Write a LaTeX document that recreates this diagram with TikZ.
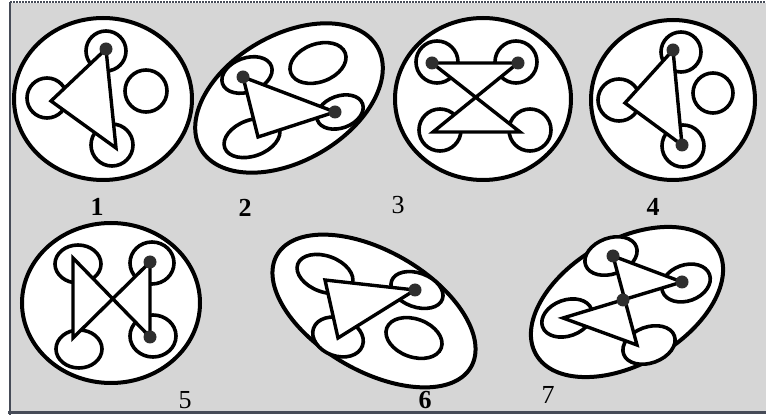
\documentclass[tikz,border=0pt]{standalone}
\usepackage{fontspec}
\setmainfont{Liberation Serif}
\definecolor{panelgray}{HTML}{D6D6D6}
\definecolor{framegray}{HTML}{464B57}
\definecolor{dotgray}{HTML}{2E2E2E}
\tikzset{
  outer/.style={draw=black, fill=white, line width=4pt},
  ring/.style={draw=black, fill=white, line width=3.6pt},
  link/.style={draw=black, fill=white, line width=3.4pt, line join=miter},
  dot/.style={fill=dotgray},
  num/.style={inner sep=0pt, font=\fontsize{26}{26}\selectfont},
  bnum/.style={num, font=\fontsize{26}{26}\selectfont\bfseries}
}
\begin{document}
\begin{tikzpicture}[x=1pt,y=-1pt]
\useasboundingbox (0,0) rectangle (766,419);
\fill[white] (0,0) rectangle (766,419);
\fill[panelgray] (10,3) rectangle (766,412);
\draw[framegray, line width=2.5pt] (10,2) -- (10,415);
\draw[framegray, line width=1.5pt, dash pattern=on 2pt off 1pt] (10,2) -- (766,2);
\draw[framegray, line width=3pt] (8,413) -- (766,413);
\draw[outer] (103,99) ellipse [x radius=89, y radius=81];
\draw[ring] (106,51) circle [radius=20];
\draw[ring] (47,98) circle [radius=20];
\draw[ring] (146,91) circle [radius=21];
\draw[ring] (112,145) circle [radius=21];
\draw[link] (106,49) -- (51,101) -- (116,148) -- cycle;
\fill[dot] (106,49) circle [radius=6.5];
\node[bnum] (n1) at (97,207) {1};
\draw[outer, rotate around={30:(289,98)}] (289,98) ellipse [x radius=102, y radius=63];
\draw[ring, rotate around={20:(247,75)}] (247,75) ellipse [x radius=26, y radius=17];
\draw[ring, rotate around={20:(318,63)}] (318,63) ellipse [x radius=29, y radius=19];
\draw[ring, rotate around={20:(340,112)}] (340,112) ellipse [x radius=24, y radius=16];
\draw[ring, rotate around={20:(252,138)}] (252,138) ellipse [x radius=29, y radius=18];
\draw[link] (243,77) -- (335,112) -- (258,137) -- cycle;
\fill[dot] (243,77) circle [radius=6.5];
\fill[dot] (335,112) circle [radius=6.5];
\node[bnum] (n2) at (245,208) {2};
\draw[outer] (483,99) ellipse [x radius=88, y radius=81];
\draw[ring] (437,62) circle [radius=21];
\draw[ring] (516,62) circle [radius=21];
\draw[ring] (440,130) circle [radius=21];
\draw[ring] (530,130) circle [radius=21];
\draw[link] (432,63) -- (518,63) -- (433,132) -- (520,132) -- cycle;
\fill[dot] (432,63) circle [radius=6.5];
\fill[dot] (518,63) circle [radius=6.5];
\node[num] (n3) at (398,205) {3};
\draw[outer] (673,100) ellipse [x radius=82, y radius=80];
\draw[ring] (681,52) circle [radius=20];
\draw[ring] (619,100) circle [radius=21];
\draw[ring] (713,93) circle [radius=20];
\draw[ring] (683,146) circle [radius=21];
\draw[link] (673,50) -- (625,103) -- (682,145) -- cycle;
\fill[dot] (673,50) circle [radius=6.5];
\fill[dot] (682,145) circle [radius=6.5];
\node[bnum] (n4) at (653,207) {4};
\draw[outer] (111,303) ellipse [x radius=89, y radius=80];
\draw[ring] (78,264) ellipse [x radius=23, y radius=19];
\draw[ring] (152,263) ellipse [x radius=22, y radius=21];
\draw[ring] (79,349) ellipse [x radius=23, y radius=19];
\draw[ring] (153,336) ellipse [x radius=23, y radius=21];
\draw[link] (73,258) -- (150,337) -- (150,262) -- (73,338) -- cycle;
\fill[dot] (150,262) circle [radius=6.5];
\fill[dot] (150,337) circle [radius=6.5];
\node[num] (n5) at (185,400) {5};
\draw[outer, rotate around={-30:(374,311)}] (374,311) ellipse [x radius=112, y radius=60];
\draw[ring, rotate around={-20:(325,274)}] (325,274) ellipse [x radius=29, y radius=18];
\draw[ring, rotate around={-20:(417,290)}] (417,290) ellipse [x radius=27, y radius=17];
\draw[ring, rotate around={-20:(338,337)}] (338,337) ellipse [x radius=26, y radius=19];
\draw[ring, rotate around={-20:(414,338)}] (414,338) ellipse [x radius=29, y radius=19];
\draw[link] (325,280) -- (415,290) -- (338,338) -- cycle;
\fill[dot] (415,290) circle [radius=6.5];
\node[bnum] (n6) at (425,400) {6};
\draw[outer, rotate around={30:(627,302)}] (627,302) ellipse [x radius=105, y radius=62];
\draw[ring, rotate around={20:(611,256)}] (611,256) ellipse [x radius=27, y radius=18];
\draw[ring, rotate around={20:(686,283)}] (686,283) ellipse [x radius=25, y radius=18];
\draw[ring, rotate around={20:(567,318)}] (567,318) ellipse [x radius=26, y radius=18];
\draw[ring, rotate around={20:(649,345)}] (649,345) ellipse [x radius=27, y radius=18];
\draw[link] (613,256) -- (682,282) -- (563,318) -- (637,345) -- cycle;
\fill[dot] (613,256) circle [radius=6.5];
\fill[dot] (682,282) circle [radius=6.5];
\fill[dot] (623,300) circle [radius=6.5];
\node[num] (n7) at (548,395) {7};
\end{tikzpicture}
\end{document}
